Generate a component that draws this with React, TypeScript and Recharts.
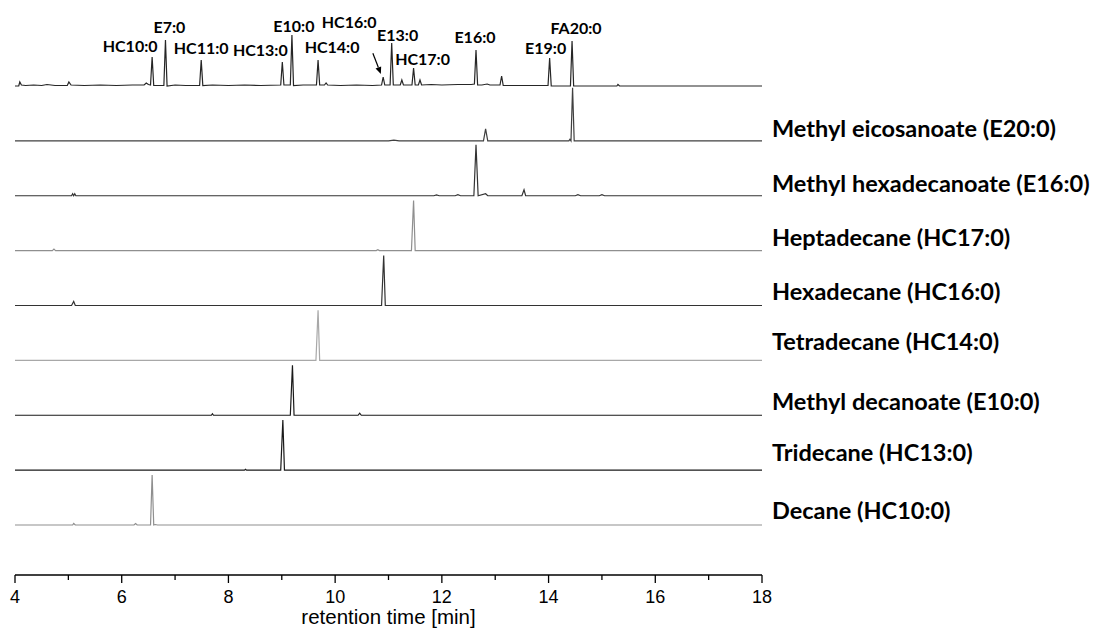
import React from 'react';
import { LineChart, Line, XAxis, YAxis, ReferenceDot } from 'recharts';

type Pt = [number, number];

// ---- DATA: retention time [min], detector signal (arbitrary units) ----
const mixture: Pt[] = [
  [4.0, 0], [4.07, 0], [4.09, 4], [4.12, 1], [4.2, 0.5], [4.35, 1], [4.5, 0.5], [4.6, 1.5], [4.75, 0.5],
  [4.98, 0.5], [5.01, 4], [5.05, 1], [5.3, 0.5], [5.6, 1], [5.9, 0.5], [6.2, 1], [6.42, 1], [6.46, 3],
  [6.5, 1.5], [6.54, 1], [6.57, 29], [6.6, 0.5], [6.79, 0.5], [6.82, 46], [6.85, 0], [7.0, 1], [7.2, 0.5],
  [7.46, 0.5], [7.49, 26], [7.52, 0.5], [7.7, 1], [8.0, 0.5], [8.3, 1], [8.6, 0.5], [8.98, 1], [9.01, 24],
  [9.04, 1], [9.16, 1], [9.19, 51], [9.22, 0.5], [9.4, 1], [9.65, 1], [9.68, 26], [9.71, 1], [9.8, 1],
  [9.83, 3], [9.86, 1], [10.1, 0.5], [10.4, 1], [10.7, 0.5], [10.87, 1], [10.9, 9], [10.93, 1], [11.03, 1],
  [11.06, 43], [11.09, 1], [11.22, 1], [11.25, 6], [11.28, 1], [11.44, 1], [11.47, 18], [11.5, 1],
  [11.56, 1], [11.59, 6], [11.62, 1], [11.8, 1.5], [12.0, 1], [12.3, 1.5], [12.55, 1.5], [12.61, 2],
  [12.64, 36], [12.67, 1], [12.75, 1], [12.85, 2], [12.9, 1], [13.09, 1], [13.12, 10], [13.15, 0.5],
  [13.5, 0.5], [13.99, 0.5], [14.02, 28], [14.05, 0], [14.2, 0], [14.41, 0], [14.44, 45], [14.47, 0],
  [15.0, 0], [15.28, 0], [15.3, 1.5], [15.33, 0], [18.0, 0],
];
const e20: Pt[] = [
  [4.0, 0], [11.0, 0], [11.1, 0.8], [11.2, 0], [12.78, 0], [12.82, 12], [12.86, 0], [14.38, 0],
  [14.4, 1.5], [14.42, 0], [14.45, 53], [14.48, 0], [18.0, 0],
];
const e16: Pt[] = [
  [4.0, 0], [5.06, 0], [5.08, 2], [5.1, 0], [5.12, 2], [5.14, 0], [11.85, 0], [11.9, 0.8], [11.95, 0],
  [12.25, 0], [12.3, 1], [12.35, 0], [12.6, 0], [12.64, 51], [12.68, 0], [12.82, 2], [12.86, 0],
  [13.5, 0], [13.54, 6], [13.57, 0], [14.5, 0], [14.55, 1], [14.6, 0], [14.95, 0], [15.0, 1], [15.05, 0],
  [18.0, 0],
];
const hc17: Pt[] = [
  [4.0, 0], [4.7, 0], [4.73, 1.5], [4.76, 0], [10.77, 0], [10.8, 1], [10.83, 0], [11.43, 0], [11.47, 50],
  [11.5, 0], [18.0, 0],
];
const hc16: Pt[] = [
  [4.0, 0], [5.06, 0], [5.1, 4], [5.13, 0], [10.87, 0], [10.91, 50], [10.94, 0], [18.0, 0],
];
const hc14: Pt[] = [
  [4.0, 0], [9.64, 0], [9.68, 50], [9.71, 0], [18.0, 0],
];
const e10: Pt[] = [
  [4.0, 0], [7.68, 0], [7.7, 1.5], [7.72, 0], [9.16, 0], [9.2, 50], [9.23, 0], [10.43, 0], [10.46, 2],
  [10.49, 0], [18.0, 0],
];
const hc13: Pt[] = [
  [4.0, 0], [8.3, 0], [8.32, 0.8], [8.34, 0], [8.98, 0], [9.02, 50], [9.05, 0], [18.0, 0],
];
const hc10: Pt[] = [
  [4.0, 0], [5.08, 0], [5.1, 1.5], [5.13, 0], [6.23, 0], [6.26, 1.5], [6.29, 0], [6.54, 0], [6.57, 50],
  [6.6, 0], [6.63, 0.5], [6.67, 0], [18.0, 0],
];

const traceData: Pt[][] = [mixture, e20, e16, hc17, hc16, hc14, e10, hc13, hc10];
const traceNames = [
  '',
  'Methyl eicosanoate (E20:0)',
  'Methyl hexadecanoate (E16:0)',
  'Heptadecane (HC17:0)',
  'Hexadecane (HC16:0)',
  'Tetradecane (HC14:0)',
  'Methyl decanoate (E10:0)',
  'Tridecane (HC13:0)',
  'Decane (HC10:0)',
];
const peakLabels = ['HC10:0', 'E7:0', 'HC11:0', 'HC13:0', 'E10:0', 'HC14:0', 'HC16:0', 'E13:0', 'HC17:0', 'E16:0', 'E19:0', 'FA20:0'];
const peakLabelTimes = [6.57, 6.82, 7.49, 9.01, 9.19, 9.68, 10.9, 11.06, 11.47, 12.64, 14.02, 14.44];
const xTicks = [4, 5, 6, 7, 8, 9, 10, 11, 12, 13, 14, 15, 16, 17, 18];
const xTitle = 'retention time [min]';

// ---- STYLE / LAYOUT ----
const TRACE_STEP = 54.875;
const BASE0 = 50;
const traceColors = ['#262626', '#404040', '#333333', '#8f8f8f', '#333333', '#a8a8a8', '#1a1a1a', '#1a1a1a', '#8f8f8f'];
const rightLabelDy = [0, -3.7, -3.3, -4.3, -5.3, -10.3, -5.7, -9.3, -6];
const peakLabelOffsets: [number, number][] = [
  [-22, -5], [4, -7], [0, -6], [-22, -6], [2, -3], [14, -7], [-34, -49], [6, -2], [9, -3], [-1, -7], [-4, -4], [4, -7],
];
const boldFont = "Lato, 'Open Sans', sans-serif";
const axisFont = "'Liberation Sans Narrow', 'Liberation Sans', Arial, sans-serif";

const nTraces = traceData.length;
const series = traceData.map((pts, i) => {
  const base = BASE0 + (nTraces - 1 - i) * TRACE_STEP;
  return pts.map(([t, h]) => ({ t, y: base + h }));
});

const makeDot = (i: number) => (props: any) => {
  const { cx, cy, index } = props;
  if (i === 0 || index !== series[i].length - 1) return <g key={`d${i}-${index}`} />;
  return (
    <text
      key={`d${i}-${index}`}
      x={cx + 10}
      y={cy + rightLabelDy[i]}
      fontFamily={boldFont}
      fontWeight={700}
      fontSize={23.5}
      fill="#000"
    >
      {traceNames[i]}
    </text>
  );
};

const renderTick = (props: any) => {
  const { x, y, payload } = props;
  const v = payload.value as number;
  const major = v % 2 === 0;
  return (
    <g key={`t${v}`}>
      <line x1={x} x2={x} y1={y} y2={y + (major ? 8 : 5)} stroke="#000" strokeWidth={1.3} />
      {major && (
        <text x={x} y={y + 28} textAnchor="middle" fontFamily={axisFont} fontSize={18} fill="#000">
          {v}
        </text>
      )}
    </g>
  );
};

export default function App() {
  const base0 = BASE0 + (nTraces - 1) * TRACE_STEP;
  return (
    <LineChart width={1100} height={628} margin={{ top: 12, right: 346, bottom: 0, left: 7 }}>
      <XAxis
        type="number"
        dataKey="t"
        domain={[4, 18]}
        ticks={xTicks}
        interval={0}
        tickLine={false}
        tickSize={0}
        tickMargin={0}
        axisLine={{ stroke: '#000', strokeWidth: 1.5 }}
        tick={renderTick}
        height={61}
        label={{ value: xTitle, position: 'insideBottom', offset: 12, fill: '#000', fontSize: 20.5, fontFamily: axisFont }}
      />
      <YAxis type="number" domain={[0, 555]} hide />
      {series.map((d, i) => (
        <Line
          key={`s${i}`}
          data={d}
          dataKey="y"
          type="linear"
          stroke={traceColors[i]}
          strokeWidth={1.2}
          dot={makeDot(i)}
          activeDot={false}
          isAnimationActive={false}
        />
      ))}
      {peakLabels.map((name, j) => {
        const t = peakLabelTimes[j];
        const pt = mixture.find((p) => p[0] === t);
        const apex = base0 + (pt ? pt[1] : 0);
        const [dx, dy] = peakLabelOffsets[j];
        return (
          <ReferenceDot
            key={`p${j}`}
            x={t}
            y={apex}
            r={0}
            ifOverflow="visible"
            shape={(p: any) => (
              <g>
                <text
                  x={p.cx + dx}
                  y={p.cy + dy}
                  textAnchor="middle"
                  fontFamily={boldFont}
                  fontWeight={700}
                  fontSize={16}
                  fill="#000"
                >
                  {name}
                </text>
                {name === 'HC16:0' && (
                  <g>
                    <line x1={p.cx - 10.3} y1={p.cy - 23.7} x2={p.cx - 4.8} y2={p.cy - 9.5} stroke="#000" strokeWidth={1.2} />
                    <polygon
                      points={`${p.cx - 2.3},${p.cy - 3} ${p.cx - 7.6},${p.cy - 8.4} ${p.cx - 2.0},${p.cy - 10.6}`}
                      fill="#000"
                    />
                  </g>
                )}
              </g>
            )}
          />
        );
      })}
    </LineChart>
  );
}
